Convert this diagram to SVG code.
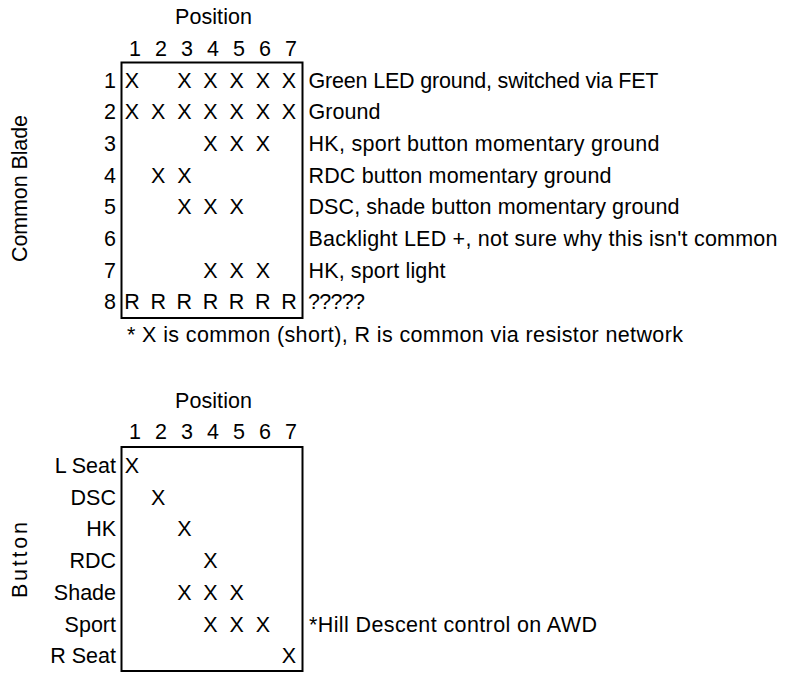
<svg xmlns="http://www.w3.org/2000/svg" width="796" height="678" viewBox="0 0 796 678">
<style>
text{font-family:"Liberation Sans",Arial,sans-serif;font-size:21.5px;fill:#000}
.m{text-anchor:middle}
.e{text-anchor:end}
.box{fill:none;stroke:#000;stroke-width:2}
</style>
<rect width="796" height="678" fill="#fff"/>
<g id="table1">
  <text class="m" x="213.5" y="24" textLength="77" lengthAdjust="spacing">Position</text>
  <g id="t1-cols">
    <text class="m" x="135" y="56">1</text>
    <text class="m" x="161" y="56">2</text>
    <text class="m" x="187" y="56">3</text>
    <text class="m" x="213" y="56">4</text>
    <text class="m" x="239" y="56">5</text>
    <text class="m" x="265" y="56">6</text>
    <text class="m" x="291" y="56">7</text>
  </g>
  <text class="m" transform="translate(27,188.5) rotate(-90)" textLength="147" lengthAdjust="spacing">Common Blade</text>
  <rect class="box" x="121.5" y="62.5" width="181" height="255.5"/>
  <g id="t1-row1">
    <text class="e" x="116" y="87.5">1</text>
    <text class="m" x="132" y="87.5">X</text>
    <text class="m" x="184.3" y="87.5">X</text>
    <text class="m" x="210.5" y="87.5">X</text>
    <text class="m" x="236.6" y="87.5">X</text>
    <text class="m" x="262.8" y="87.5">X</text>
    <text class="m" x="288.9" y="87.5">X</text>
    <text x="308.5" y="87.5" textLength="350" lengthAdjust="spacing">Green LED ground, switched via FET</text>
  </g>
  <g id="t1-row2">
    <text class="e" x="116" y="119.2">2</text>
    <text class="m" x="132" y="119.2">X</text>
    <text class="m" x="158.2" y="119.2">X</text>
    <text class="m" x="184.3" y="119.2">X</text>
    <text class="m" x="210.5" y="119.2">X</text>
    <text class="m" x="236.6" y="119.2">X</text>
    <text class="m" x="262.8" y="119.2">X</text>
    <text class="m" x="288.9" y="119.2">X</text>
    <text x="308.5" y="119.2" textLength="72" lengthAdjust="spacing">Ground</text>
  </g>
  <g id="t1-row3">
    <text class="e" x="116" y="150.9">3</text>
    <text class="m" x="210.5" y="150.9">X</text>
    <text class="m" x="236.6" y="150.9">X</text>
    <text class="m" x="262.8" y="150.9">X</text>
    <text x="308.5" y="150.9" textLength="351" lengthAdjust="spacing">HK, sport button momentary ground</text>
  </g>
  <g id="t1-row4">
    <text class="e" x="116" y="182.6">4</text>
    <text class="m" x="158.2" y="182.6">X</text>
    <text class="m" x="184.3" y="182.6">X</text>
    <text x="308.5" y="182.6" textLength="303" lengthAdjust="spacing">RDC button momentary ground</text>
  </g>
  <g id="t1-row5">
    <text class="e" x="116" y="214.3">5</text>
    <text class="m" x="184.3" y="214.3">X</text>
    <text class="m" x="210.5" y="214.3">X</text>
    <text class="m" x="236.6" y="214.3">X</text>
    <text x="308.5" y="214.3" textLength="371" lengthAdjust="spacing">DSC, shade button momentary ground</text>
  </g>
  <g id="t1-row6">
    <text class="e" x="116" y="246">6</text>
    <text x="308.5" y="246" textLength="469" lengthAdjust="spacing">Backlight LED +, not sure why this isn't common</text>
  </g>
  <g id="t1-row7">
    <text class="e" x="116" y="277.7">7</text>
    <text class="m" x="210.5" y="277.7">X</text>
    <text class="m" x="236.6" y="277.7">X</text>
    <text class="m" x="262.8" y="277.7">X</text>
    <text x="308.5" y="277.7" textLength="137" lengthAdjust="spacing">HK, sport light</text>
  </g>
  <g id="t1-row8">
    <text class="e" x="116" y="309.4">8</text>
    <text class="m" x="132" y="309.4">R</text>
    <text class="m" x="158.2" y="309.4">R</text>
    <text class="m" x="184.3" y="309.4">R</text>
    <text class="m" x="210.5" y="309.4">R</text>
    <text class="m" x="236.6" y="309.4">R</text>
    <text class="m" x="262.8" y="309.4">R</text>
    <text class="m" x="288.9" y="309.4">R</text>
    <text x="308" y="309.4" textLength="57" lengthAdjust="spacing">?????</text>
  </g>
  <text x="127" y="342" textLength="556" lengthAdjust="spacing">* X is common (short), R is common via resistor network</text>
</g>
<g id="table2">
  <text class="m" x="213.5" y="408" textLength="77" lengthAdjust="spacing">Position</text>
  <g id="t2-cols">
    <text class="m" x="135" y="439">1</text>
    <text class="m" x="161" y="439">2</text>
    <text class="m" x="187" y="439">3</text>
    <text class="m" x="213" y="439">4</text>
    <text class="m" x="239" y="439">5</text>
    <text class="m" x="265" y="439">6</text>
    <text class="m" x="291" y="439">7</text>
  </g>
  <text class="m" transform="translate(27,560) rotate(-90)" textLength="76" lengthAdjust="spacing">Button</text>
  <rect class="box" x="121.5" y="447" width="181" height="224"/>
  <g id="t2-lseat">
    <text class="e" x="116" y="473">L Seat</text>
    <text class="m" x="132" y="473">X</text>
  </g>
  <g id="t2-dsc">
    <text class="e" x="116" y="504.7">DSC</text>
    <text class="m" x="158.2" y="504.7">X</text>
  </g>
  <g id="t2-hk">
    <text class="e" x="116" y="536.4">HK</text>
    <text class="m" x="184.3" y="536.4">X</text>
  </g>
  <g id="t2-rdc">
    <text class="e" x="116" y="568.1">RDC</text>
    <text class="m" x="210.5" y="568.1">X</text>
  </g>
  <g id="t2-shade">
    <text class="e" x="116" y="599.8">Shade</text>
    <text class="m" x="184.3" y="599.8">X</text>
    <text class="m" x="210.5" y="599.8">X</text>
    <text class="m" x="236.6" y="599.8">X</text>
  </g>
  <g id="t2-sport">
    <text class="e" x="116" y="631.5">Sport</text>
    <text class="m" x="210.5" y="631.5">X</text>
    <text class="m" x="236.6" y="631.5">X</text>
    <text class="m" x="262.8" y="631.5">X</text>
    <text x="309" y="631.5" textLength="288" lengthAdjust="spacing">*Hill Descent control on AWD</text>
  </g>
  <g id="t2-rseat">
    <text class="e" x="116" y="663.2">R Seat</text>
    <text class="m" x="288.9" y="663.2">X</text>
  </g>
</g>
</svg>
